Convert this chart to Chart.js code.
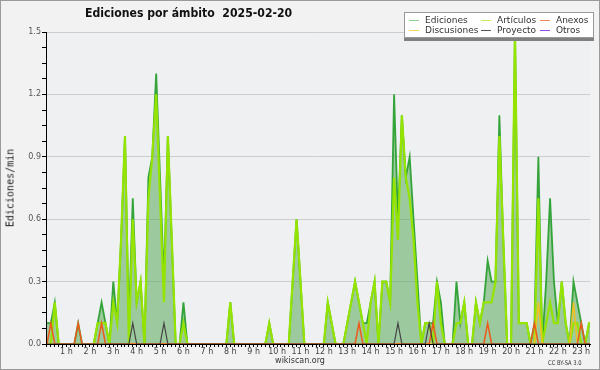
<!DOCTYPE html>
<html>
<head>
<meta charset="utf-8">
<script src="https://cdn.jsdelivr.net/npm/chart.js@4/dist/chart.umd.min.js"></script>
<style>
  body { margin: 0; background: #f2f2f2; }
  #wrap { position: relative; width: 600px; height: 370px; font-family: "DejaVu Sans", sans-serif; }
  #chart { position: absolute; left: 0; top: 0; }
  .txt { position: absolute; white-space: nowrap; color: #222; }
  #title { left: 85px; top: 6px; font-size: 12px; font-weight: bold; color: #111;
           transform: scaleX(0.91); transform-origin: 0 0; }
  #ylabel { left: 9.5px; top: 188px; font-family: "DejaVu Sans Mono", monospace; font-size: 10px;
            transform: translate(-50%, -50%) rotate(-90deg); }
  #site { left: 300px; top: 356px; font-size: 8px; transform: translateX(-50%); color: #333; }
  #lic { left: 548px; top: 359px; font-size: 6.5px; color: #333;
         transform: scaleX(0.8); transform-origin: 0 0; }
  #legend { position: absolute; left: 404px; top: 12px; width: 188px; height: 24px; background: #fff;
            border: 1px solid #999; box-shadow: 0 3px 0 #808080; }
  .item { position: absolute; font-size: 9px; color: #333; line-height: 10px; }
  .item i { position: absolute; left: 0; top: 4.5px; width: 10px; height: 1.5px; }
  .item span { position: absolute; left: 16px; top: 0; white-space: nowrap; }
</style>
</head>
<body>
<div id="wrap">
  <canvas id="chart" width="600" height="370"></canvas>
  <div id="title" class="txt">Ediciones por ámbito&nbsp; 2025-02-20</div>
  <div id="ylabel" class="txt">Ediciones/min</div>
  <div id="site" class="txt">wikiscan.org</div>
  <div id="lic" class="txt">CC BY-SA 3.0</div>
  <div id="legend"></div>
</div>
<script>
// 10-minute slots, value = edits per minute
const slotMinutes = Array.from({ length: 142 }, (_, j) => j * 10);

const ediciones = [
  0.1, 0.1, 0.1, 0.2, 0, 0, 0, 0, 0, 0.1, 0, 0, 0, 0, 0.1, 0.2, 0.1, 0, 0.3, 0.1,
  0.5, 1.0, 0.1, 0.7, 0.2, 0.3, 0, 0.8, 0.9, 1.3, 0.8, 0.3, 1.0, 0.5, 0, 0, 0.2, 0, 0, 0,
  0, 0, 0, 0, 0, 0, 0, 0, 0.2, 0, 0, 0, 0, 0, 0, 0, 0, 0, 0.1, 0,
  0, 0, 0, 0, 0.3, 0.6, 0.3, 0, 0, 0, 0, 0, 0, 0.2, 0.1, 0, 0, 0, 0.1, 0.2,
  0.3, 0.2, 0.1, 0.1, 0.2, 0.3, 0, 0.3, 0.3, 0.2, 1.2, 0.6, 1.1, 0.8, 0.9, 0.6, 0.3, 0, 0.1, 0.1,
  0.1, 0.3, 0.2, 0, 0, 0, 0.3, 0.1, 0.2, 0, 0, 0.2, 0.1, 0.2, 0.4, 0.3, 0.3, 1.1, 0.5, 0,
  0, 1.5, 0.1, 0.1, 0.1, 0, 0.1, 0.9, 0, 0.3, 0.7, 0.3, 0.1, 0.3, 0.1, 0, 0.3, 0.2, 0.1, 0,
  0.1, 0.1
];
const articulos = [
  0, 0, 0, 0.2, 0, 0, 0, 0, 0, 0, 0, 0, 0, 0, 0.1, 0.1, 0.1, 0, 0.2, 0.1,
  0.5, 1.0, 0, 0.6, 0.2, 0.3, 0, 0.7, 0.9, 1.2, 0.7, 0.2, 1.0, 0.5, 0, 0, 0.1, 0, 0, 0,
  0, 0, 0, 0, 0, 0, 0, 0, 0.2, 0, 0, 0, 0, 0, 0, 0, 0, 0, 0.1, 0,
  0, 0, 0, 0, 0.3, 0.6, 0.3, 0, 0, 0, 0, 0, 0, 0.2, 0.1, 0, 0, 0, 0.1, 0.2,
  0.3, 0.2, 0.1, 0, 0.2, 0.3, 0, 0.3, 0.3, 0.2, 0.8, 0.5, 1.1, 0.8, 0.7, 0.5, 0.2, 0, 0.1, 0.1,
  0, 0.3, 0.1, 0, 0, 0, 0.1, 0.1, 0.2, 0, 0, 0.2, 0.1, 0.2, 0.2, 0.2, 0.3, 1.0, 0.5, 0,
  0, 1.5, 0.1, 0.1, 0.1, 0, 0, 0.7, 0, 0.1, 0.2, 0.1, 0.1, 0.3, 0.1, 0, 0.1, 0.1, 0, 0,
  0.1, 0.1
];
const anexos = [
  0, 0, 0.1, 0, 0, 0, 0, 0, 0, 0.1, 0, 0, 0, 0, 0, 0.1, 0, 0, 0, 0,
  0, 0, 0, 0, 0, 0, 0, 0, 0, 0, 0, 0, 0, 0, 0, 0, 0, 0, 0, 0,
  0, 0, 0, 0, 0, 0, 0, 0, 0, 0, 0, 0, 0, 0, 0, 0, 0, 0, 0, 0,
  0, 0, 0, 0, 0, 0, 0, 0, 0, 0, 0, 0, 0, 0, 0, 0, 0, 0, 0, 0,
  0, 0.1, 0, 0, 0, 0, 0, 0, 0, 0, 0, 0, 0, 0, 0, 0, 0, 0, 0, 0,
  0.1, 0, 0, 0, 0, 0, 0, 0, 0, 0, 0, 0, 0, 0, 0.1, 0, 0, 0, 0, 0,
  0, 0, 0, 0, 0, 0, 0.1, 0, 0, 0, 0, 0, 0, 0, 0, 0, 0, 0, 0.1, 0,
  0, 0
];
const discusiones = [
  0, 0, 0, 0, 0, 0, 0, 0, 0, 0, 0, 0, 0, 0, 0, 0, 0, 0, 0, 0,
  0, 0, 0, 0, 0, 0, 0, 0, 0, 0, 0, 0, 0, 0, 0, 0, 0, 0, 0, 0,
  0, 0, 0, 0, 0, 0, 0, 0, 0, 0, 0, 0, 0, 0, 0, 0, 0, 0, 0, 0,
  0, 0, 0, 0, 0, 0, 0, 0, 0, 0, 0, 0, 0, 0, 0, 0, 0, 0, 0, 0,
  0, 0, 0, 0, 0, 0, 0, 0, 0, 0, 0, 0, 0, 0, 0, 0, 0, 0, 0, 0,
  0, 0, 0, 0, 0, 0, 0, 0, 0, 0, 0, 0, 0, 0, 0, 0, 0, 0, 0, 0,
  0, 0, 0, 0, 0, 0, 0, 0.2, 0, 0, 0, 0, 0, 0, 0, 0, 0.2, 0, 0, 0,
  0, 0
];
const proyecto = [
  0, 0, 0, 0, 0, 0, 0, 0, 0, 0, 0, 0, 0, 0, 0, 0, 0, 0, 0, 0,
  0, 0, 0, 0.1, 0, 0, 0, 0, 0, 0, 0, 0.1, 0, 0, 0, 0, 0, 0, 0, 0,
  0, 0, 0, 0, 0, 0, 0, 0, 0, 0, 0, 0, 0, 0, 0, 0, 0, 0, 0, 0,
  0, 0, 0, 0, 0, 0, 0, 0, 0, 0, 0, 0, 0, 0, 0, 0, 0, 0, 0, 0,
  0, 0, 0, 0, 0, 0, 0, 0, 0, 0, 0, 0.1, 0, 0, 0, 0, 0, 0, 0, 0.1,
  0, 0, 0, 0, 0, 0, 0, 0, 0, 0, 0, 0, 0, 0, 0, 0, 0, 0, 0, 0,
  0, 0, 0, 0, 0, 0, 0, 0, 0, 0, 0, 0, 0, 0, 0, 0, 0, 0, 0, 0,
  0, 0
];

const legendNames = ['Ediciones', 'Artículos', 'Anexos', 'Discusiones', 'Proyecto', 'Otros'];
const legendColors = ['#8fcf8f', '#c8ec5a', '#f58a5a', '#f5d75a', '#555555', '#9a4ff0'];

// legend box, 3 columns x 2 rows
const legendCols = [4, 76, 135];
const legendRows = [2, 12];
const legendEl = document.getElementById('legend');
legendNames.forEach((name, k) => {
  const d = document.createElement('div');
  d.className = 'item';
  d.style.left = legendCols[k % 3] + 'px';
  d.style.top = legendRows[Math.floor(k / 3)] + 'px';
  d.innerHTML = `<i style="background:${legendColors[k]}"></i><span>${name}</span>`;
  legendEl.appendChild(d);
});

const isMajor = v => Math.abs(v / 0.3 - Math.round(v / 0.3)) < 1e-6;

const bgPlugin = {
  id: 'bg',
  beforeDraw(chart) {
    const { ctx, chartArea: a } = chart;
    ctx.save();
    ctx.fillStyle = '#f2f2f2';
    ctx.fillRect(0, 0, chart.width, chart.height);
    ctx.fillStyle = '#eef0f2';
    ctx.fillRect(a.left, a.top, a.right - a.left, a.bottom - a.top);
    ctx.restore();
  },
  afterDraw(chart) {
    const { ctx } = chart;
    ctx.save();
    ctx.strokeStyle = '#9a9a9a';
    ctx.lineWidth = 1;
    ctx.strokeRect(0.5, 0.5, chart.width - 1, chart.height - 1);
    ctx.restore();
  }
};

function line(label, data, color, width, order, extra) {
  return Object.assign({
    label, data, borderColor: color, borderWidth: width, order,
    pointRadius: 0, tension: 0, fill: false, clip: 0
  }, extra || {});
}

new Chart(document.getElementById('chart'), {
  type: 'line',
  data: {
    labels: slotMinutes,
    datasets: [
      line('Ediciones', ediciones, '#34a43a', 1.8, 5, { fill: 'origin', backgroundColor: 'rgba(90,170,90,0.55)' }),
      line('Artículos', articulos, '#94e400', 2.2, 4),
      line('Discusiones', discusiones, '#f0c020', 1.5, 3),
      line('Anexos', anexos, '#ee5a1a', 1.5, 2),
      line('Proyecto', proyecto, '#444444', 1.2, 1)
    ]
  },
  options: {
    responsive: false,
    animation: false,
    events: [],
    layout: { padding: { left: 0, right: 10, top: 32, bottom: 0 } },
    plugins: { legend: { display: false }, tooltip: { enabled: false } },
    scales: {
      x: {
        type: 'linear',
        min: 7.5,
        max: 1402.4,
        afterFit: s => { s.height = 26; },
        border: { color: '#000', width: 1, z: 1 },
        grid: { drawOnChartArea: false, tickLength: 3, tickColor: '#000' },
        ticks: {
          stepSize: 10,
          includeBounds: false,
          autoSkip: false,
          maxRotation: 0,
          padding: 0,
          color: '#444',
          font: { family: 'DejaVu Sans', size: 8 },
          callback: v => (v % 60 === 0 ? (v / 60) + ' h' : '')
        }
      },
      y: {
        min: 0,
        max: 1.5,
        afterFit: s => { s.width = 46; },
        border: { color: '#000', width: 1, z: 1 },
        grid: {
          color: c => (c.tick && c.tick.value > 0 && isMajor(c.tick.value) ? '#cdcdcd' : 'rgba(0,0,0,0)'),
          tickLength: 4,
          tickColor: '#000'
        },
        ticks: {
          stepSize: 0.075,
          padding: 1,
          color: '#555',
          font: { family: 'DejaVu Sans', size: 8 },
          callback: v => (isMajor(v) ? v.toFixed(1) : '')
        }
      }
    }
  },
  plugins: [bgPlugin]
});
</script>
</body>
</html>
